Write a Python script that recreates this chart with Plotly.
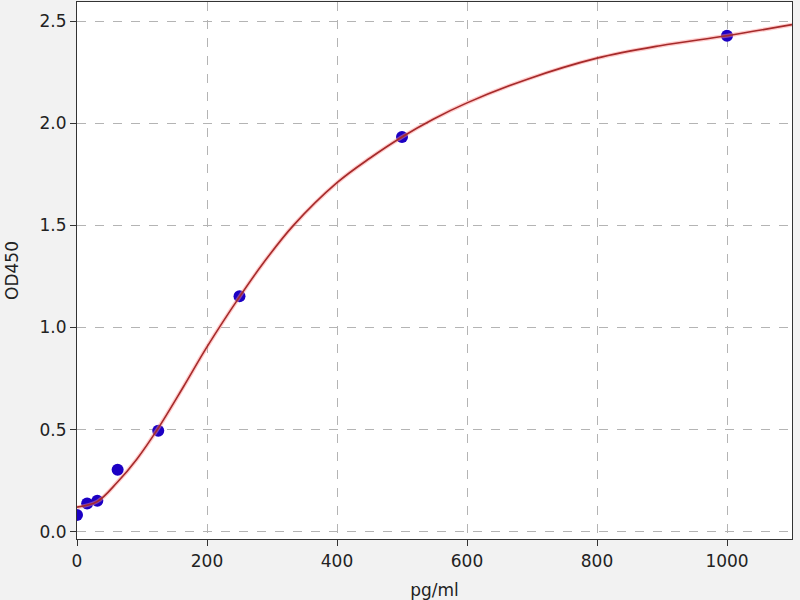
import plotly.graph_objects as go

# standard points (pg/ml vs OD450)
conc = [0, 15.6, 31.25, 62.5, 125, 250, 500, 1000]
od450 = [0.082, 0.138, 0.151, 0.303, 0.494, 1.153, 1.933, 2.429]

# fitted curve
curve_x = [0, 31, 62, 92, 125, 164, 200, 250, 287, 333, 400, 451, 500, 548, 600, 692, 800, 897, 1000, 1100]
curve_y = [0.12, 0.147, 0.242, 0.355, 0.507, 0.711, 0.905, 1.15, 1.317, 1.50, 1.709, 1.83, 1.933, 2.02,
           2.10, 2.215, 2.319, 2.38, 2.429, 2.483]

fig = go.Figure()

fig.add_trace(go.Scatter(
    x=conc, y=od450, mode="markers",
    marker=dict(color="#1c00c4", size=12, line=dict(width=0)),
    showlegend=False))

# soft halo under the line
fig.add_trace(go.Scatter(
    x=curve_x, y=curve_y, mode="lines",
    line=dict(color="rgba(255,140,140,0.45)", width=4, shape="spline", smoothing=1.0),
    showlegend=False, hoverinfo="skip"))
fig.add_trace(go.Scatter(
    x=curve_x, y=curve_y, mode="lines",
    line=dict(color="#a52a2a", width=1.6, shape="spline", smoothing=1.0),
    showlegend=False))

font = dict(family="DejaVu Sans", size=17, color="#222222")

axis_style = dict(
    showline=True, mirror=True, linecolor="#333333", linewidth=1.2,
    ticks="outside", ticklen=6, tickcolor="#333333",
    showgrid=True, gridcolor="#b4b4b4", griddash="dash", gridwidth=1,
    zeroline=False, automargin=False,
    tickfont=font,
)

fig.update_xaxes(range=[0, 1100], tickvals=[0, 200, 400, 600, 800, 1000],
                 title=dict(text="pg/ml", font=font, standoff=14),
                 **axis_style)
fig.update_yaxes(range=[-0.036, 2.594], tickvals=[0, 0.5, 1.0, 1.5, 2.0, 2.5],
                 tickformat=".1f",
                 title=dict(text="OD450", font=font, standoff=16),
                 **axis_style)

fig.update_layout(
    width=800, height=600,
    margin=dict(l=77, r=8, t=2, b=61),
    paper_bgcolor="#f2f2f2",
    plot_bgcolor="white",
)

# page has a default body margin; drop it so the figure sits at 0,0
fig.write_html("out.html", config={"displayModeBar": False},
               post_script="document.body.style.margin='0';")
